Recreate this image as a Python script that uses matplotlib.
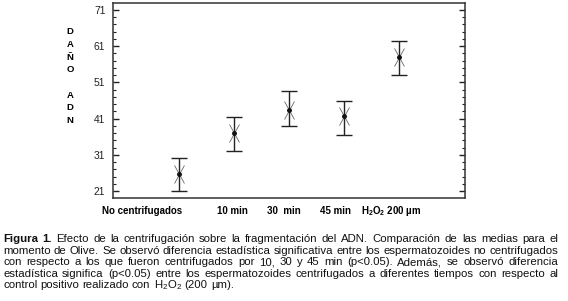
import numpy as np
import matplotlib
matplotlib.use("Agg")
import matplotlib.pyplot as plt
import matplotlib.transforms as mtransforms
from matplotlib.path import Path

# values
groups = ["No centrifugados", "10 min", "30  min", "45 min", "H$_2$O$_2$ 200 µm"]
means = [25.6, 36.9, 43.4, 41.7, 58.1]
upper = [30.0, 41.4, 48.5, 46.0, 62.5]
lower = [21.0, 32.1, 39.0, 36.4, 53.1]
label_x = [-0.67, 0.98, 1.9, 2.85, 3.85]   # category labels sit left of the points
yticks = [21, 31, 41, 51, 61, 71]
ylabel_letters = ["D", "A", "Ñ", "O", "", "A", "D", "N"]

caption_lines = [
    "Figura 1. Efecto de la centrifugación sobre la fragmentación del ADN. Comparación de las medias para el",
    "momento de Olive. Se observó diferencia estadística significativa entre los espermatozoides no centrifugados",
    "con respecto a los que fueron centrifugados por 10, 30 y 45 min (p<0.05). Además, se observó diferencia",
    "estadística significa (p<0.05) entre los espermatozoides centrifugados a diferentes tiempos con respecto al",
    "control positivo realizado con H$_2$O$_2$ (200 µm).",
]

plt.rcParams['font.family'] = ['Liberation Sans', 'DejaVu Sans']
plt.rcParams['mathtext.default'] = 'regular'

W, H = 568, 301
fig = plt.figure(figsize=(W / 100, H / 100), dpi=100)
ax = fig.add_axes([113 / W, 1 - 198 / H, (465 - 113) / W, (198 - 3) / H])


def fx(px):
    return px / W


def fy(py):
    return 1 - py / H


x = np.arange(len(means))
m = np.array(means)
err = [m - np.array(lower), np.array(upper) - m]
ax.errorbar(x, m, yerr=err, fmt='none', ecolor='#222222', elinewidth=1.0,
            capsize=5.5, capthick=1.0)

# x-shaped marker with steep arms
xmark = Path([(-0.55, -1), (0.55, 1), (-0.55, 1), (0.55, -1)],
             [Path.MOVETO, Path.LINETO, Path.MOVETO, Path.LINETO])
ax.plot(x, m, linestyle='none', marker=xmark, markersize=13,
        markeredgecolor='#666666', markeredgewidth=0.6, markerfacecolor='none')
ax.plot(x, m, linestyle='none', marker='o', markersize=2.5, color='#111111')

ax.set_xlim(-1.2, 5.2)
ax.set_ylim(19.1, 72.9)
ax.set_xticks([])
ax.set_yticks(yticks)
ax.set_yticks(np.arange(21, 72, 2), minor=True)
ax.tick_params(axis='y', which='both', direction='in', left=True, right=True,
               labelsize=7.4, labelcolor='#222222', pad=5.5, color='#222222')
ax.tick_params(axis='y', which='major', length=4.5, width=1.0)
ax.tick_params(axis='y', which='minor', length=2.4, width=0.8)
for s in ax.spines.values():
    s.set_linewidth(1.1)
    s.set_color('#333333')

# category labels under the axes
lab_trans = mtransforms.blended_transform_factory(ax.transData, fig.transFigure)
for lx, g in zip(label_x, groups):
    ax.text(lx, fy(211), g, transform=lab_trans,
            ha='center', va='center', fontsize=7, fontweight='bold',
            family=['Liberation Sans Narrow', 'Liberation Sans'])

# stacked y label
for i, ch in enumerate(ylabel_letters):
    if ch:
        fig.text(fx(70), fy(32 + 12.6 * i), ch, ha='center', va='center',
                 fontsize=6.8, fontweight='bold')

# justified caption
renderer = fig.canvas.get_renderer()
left, right = 3, 558
baselines = [242, 253.6, 265.2, 276.8, 288.4]
cap_size = 8.2
for li, (line, yb) in enumerate(zip(caption_lines, baselines)):
    words = line.split(" ")
    texts = []
    for wi, w in enumerate(words):
        bold = li == 0 and wi < 2
        t = fig.text(0, fy(yb), w, ha='left', va='baseline', fontsize=cap_size,
                     fontweight='bold' if bold else 'normal', color='#111111')
        texts.append(t)
    widths = [t.get_window_extent(renderer).width for t in texts]
    if li < len(caption_lines) - 1:
        gap = (right - left - sum(widths)) / (len(words) - 1)
    else:
        sp = fig.text(0, 0, "a a", fontsize=cap_size)
        sa = fig.text(0, 0, "aa", fontsize=cap_size)
        gap = sp.get_window_extent(renderer).width - sa.get_window_extent(renderer).width
        sp.remove()
        sa.remove()
    pos = left
    for t, w in zip(texts, widths):
        t.set_x(fx(pos))
        pos += w + gap

fig.savefig("out.png", dpi=100)
